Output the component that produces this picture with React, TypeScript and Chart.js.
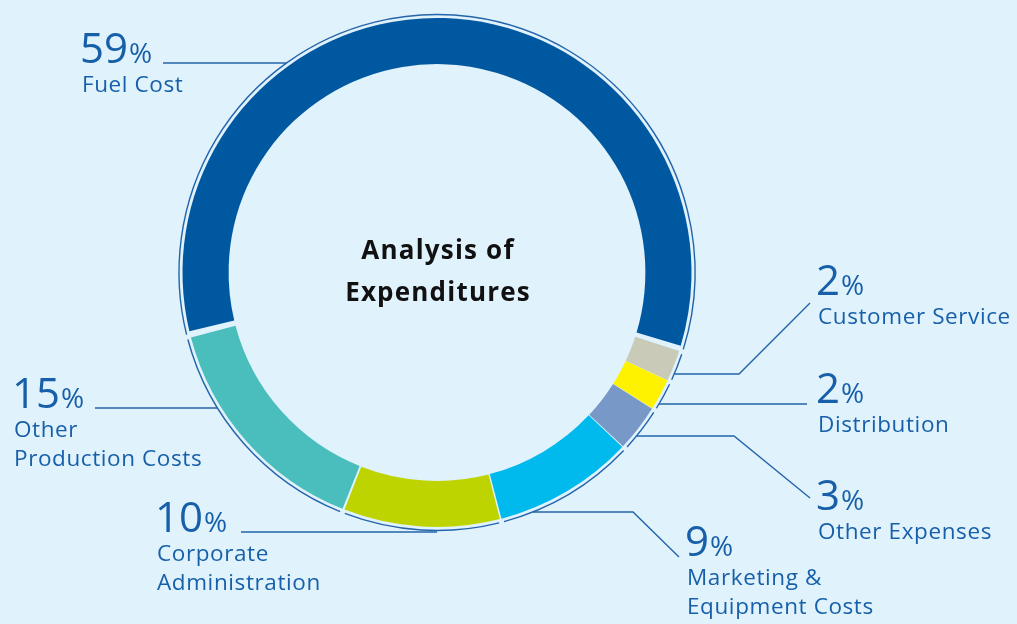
import React, { useEffect, useRef } from "react";
import { Chart, registerables } from "chart.js";

Chart.register(...registerables);

const categories = [
  "Fuel Cost",
  "Customer Service",
  "Distribution",
  "Other Expenses",
  "Marketing & Equipment Costs",
  "Corporate Administration",
  "Other Production Costs",
];
const labelLines = [
  ["Fuel Cost"],
  ["Customer Service"],
  ["Distribution"],
  ["Other Expenses"],
  ["Marketing &", "Equipment Costs"],
  ["Corporate", "Administration"],
  ["Other", "Production Costs"],
];
const shares = [59, 2, 2, 3, 9, 10, 15];
const colors = ["#0058a1", "#c9cab7", "#fff200", "#7898c8", "#00b9ed", "#bdd400", "#4abdbd"];
const centerTitle = ["Analysis of", "Expenditures"];

// label layout: text anchor (x, baseline of the number) and leader line geometry
type Layout = { tx: number; ty: number; side: "L" | "R"; lineY: number; endX: number; elbowX?: number; endY?: number };
const layout: Layout[] = [
  { tx: 82, ty: 63, side: "L", lineY: 63, endX: 163 },
  { tx: 818, ty: 295, side: "R", lineY: 374, elbowX: 739, endX: 810, endY: 303 },
  { tx: 818, ty: 403, side: "R", lineY: 404, endX: 807 },
  { tx: 818, ty: 510, side: "R", lineY: 436, elbowX: 734, endX: 810, endY: 498 },
  { tx: 687, ty: 556, side: "R", lineY: 512, elbowX: 633, endX: 679, endY: 557 },
  { tx: 157, ty: 532, side: "L", lineY: 532, endX: 241 },
  { tx: 14, ty: 408, side: "L", lineY: 408, endX: 95 },
];

const BG = "#e0f2fc";
const TEXT = "#1760a9";
const LINE = "#2464ab";
const FONT = '"Open Sans", sans-serif';

const overlay = {
  id: "overlay",
  beforeDraw(chart: any) {
    const ctx = chart.ctx;
    ctx.save();
    ctx.fillStyle = BG;
    ctx.fillRect(0, 0, chart.width, chart.height);
    ctx.restore();
  },
  afterDraw(chart: any) {
    const ctx = chart.ctx;
    const arcs = chart.getDatasetMeta(0).data;
    if (!arcs.length) return;
    const cx = arcs[0].x;
    const cy = arcs[0].y;
    const R = arcs[0].outerRadius + 6;
    ctx.save();
    // thin outer ring, interrupted at segment boundaries
    ctx.strokeStyle = LINE;
    ctx.lineWidth = 1.4;
    const gap = 2.5 / R;
    arcs.forEach((a: any) => {
      ctx.beginPath();
      ctx.arc(cx, cy, R, a.startAngle + gap, a.endAngle - gap);
      ctx.stroke();
    });
    // leader lines
    layout.forEach((l) => {
      const dy = l.lineY - cy;
      const dx = Math.sqrt(Math.max(R * R - dy * dy, 0));
      const sx = l.side === "L" ? cx - dx : cx + dx;
      ctx.beginPath();
      ctx.moveTo(sx, l.lineY);
      if (l.elbowX !== undefined) {
        ctx.lineTo(l.elbowX, l.lineY);
        ctx.lineTo(l.endX, l.endY);
      } else {
        ctx.lineTo(l.endX, l.lineY);
      }
      ctx.stroke();
    });
    // labels
    ctx.fillStyle = TEXT;
    ctx.textBaseline = "alphabetic";
    ctx.textAlign = "left";
    layout.forEach((l, i) => {
      const num = String(shares[i]);
      (ctx as any).letterSpacing = "0px";
      ctx.font = `42px ${FONT}`;
      ctx.fillText(num, l.tx - 2, l.ty);
      const w = ctx.measureText(num).width;
      ctx.font = `28px ${FONT}`;
      ctx.fillText("%", l.tx - 2 + w + 1, l.ty);
      ctx.font = `22.5px ${FONT}`;
      (ctx as any).letterSpacing = "0.6px";
      labelLines[i].forEach((t, j) => {
        ctx.fillText(t, l.tx, l.ty + 29 + j * 29);
      });
    });
    // center title
    ctx.fillStyle = "#111111";
    ctx.textAlign = "center";
    ctx.font = `bold 26px ${FONT}`;
    (ctx as any).letterSpacing = "1.2px";
    ctx.fillText(centerTitle[0], cx + 1, 259);
    ctx.fillText(centerTitle[1], cx + 1, 301);
    ctx.restore();
  },
};

export default function App() {
  const ref = useRef<HTMLCanvasElement>(null);
  useEffect(() => {
    if (!ref.current) return;
    const chart = new Chart(ref.current, {
      type: "doughnut",
      data: {
        labels: categories,
        datasets: [
          {
            data: shares,
            backgroundColor: colors,
            borderWidth: 0,
          },
        ],
      },
      options: {
        responsive: false,
        animation: false,
        cutout: "81.7%",
        rotation: 255.5,
        spacing: 5,
        layout: { padding: { left: 182.5, right: 325.5, top: 18, bottom: 97 } },
        plugins: {
          legend: { display: false },
          tooltip: { enabled: false },
          title: { display: false },
        },
      } as any,
      plugins: [overlay],
    });
    return () => chart.destroy();
  }, []);
  return (
    <div style={{ position: "fixed", left: 0, top: 0, width: 1017, height: 624, background: BG }}>
      <canvas ref={ref} width={1017} height={624} />
    </div>
  );
}
